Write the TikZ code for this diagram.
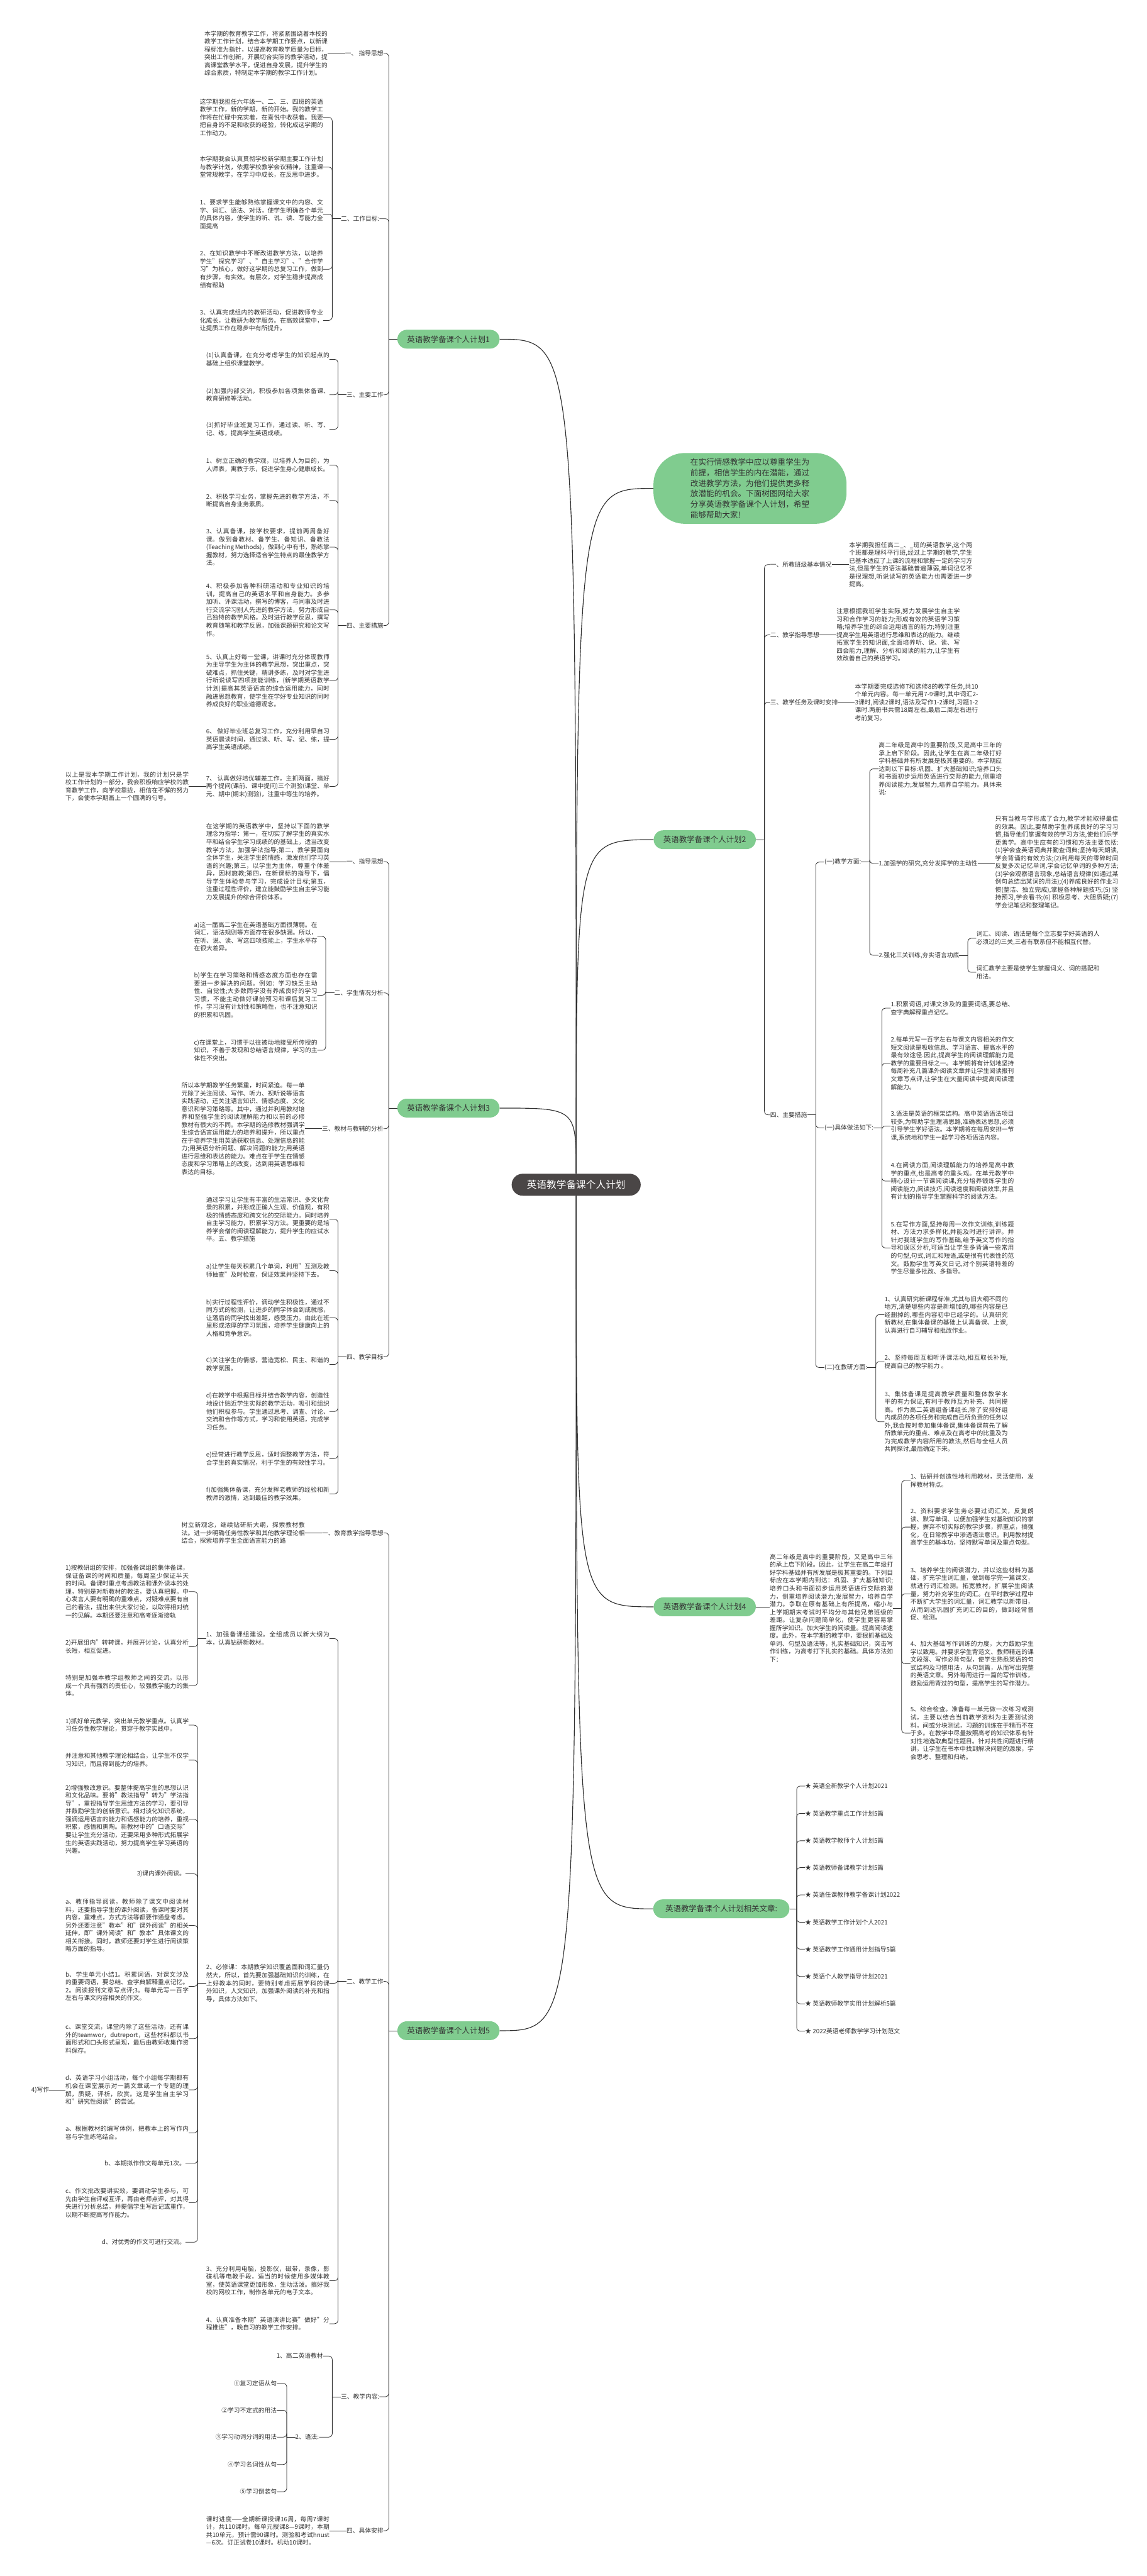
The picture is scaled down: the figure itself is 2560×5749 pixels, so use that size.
\documentclass[tikz,border=0pt]{standalone}
\usepackage{fontspec}
\setmainfont{Noto Sans CJK SC}
\usepackage{tikz}
\XeTeXlinebreaklocale "zh"
\XeTeXlinebreakskip=0pt plus 1pt
\setlength{\parindent}{0pt}
\definecolor{MapGreen}{HTML}{80CC8F}
\definecolor{MapDark}{HTML}{4A4646}
\definecolor{MapInk}{HTML}{333333}
\definecolor{MapLine}{HTML}{2E2E2E}
\tikzset{
  rootbox/.style={fill=MapDark,text=white,rounded corners=24.5bp,minimum width=288bp,minimum height=49bp,inner sep=0pt,font=\fontsize{22bp}{26bp}\selectfont},
  topicbox/.style={fill=MapGreen,text=MapInk,rounded corners=21bp,minimum width=228bp,minimum height=42bp,inner sep=0pt,font=\fontsize{17.5bp}{21bp}\selectfont},
  tagtext/.style={text=MapInk,inner sep=0pt,font=\fontsize{13.7bp}{17.6bp}\selectfont},
  leafbox/.style={tagtext,text width=275bp,align=justify},
  trunkline/.style={draw=MapLine,line width=1.6bp},
  linkline/.style={draw=MapLine,line width=1.1bp},
  braceline/.style={linkline,rounded corners=8bp}
}
\begin{document}
\begin{tikzpicture}[x=1bp,y=-1bp]
  \fill[white] (0,0) rectangle (2560,5749);
  \useasboundingbox (0,0) rectangle (2560,5749);

  \node[rootbox] (root) at (1286,2644) {英语教学备课个人计划};
  \node[topicbox] (p1) at (1001,757) {英语教学备课个人计划1};
  \node[topicbox] (p3) at (1001,2473) {英语教学备课个人计划3};
  \node[topicbox] (p5) at (1001,4532) {英语教学备课个人计划5};
  \node[topicbox] (p2) at (1573,1874) {英语教学备课个人计划2};
  \node[topicbox] (p4) at (1573,3586) {英语教学备课个人计划4};
  \node[topicbox,minimum width=304bp] (rel) at (1610,4260) {英语教学备课个人计划相关文章:};
  \node[topicbox,rounded corners=70bp,minimum width=431bp,minimum height=158bp,text width=266bp,align=left,font=\fontsize{17.7bp}{23.6bp}\selectfont] (intro) at (1674,1090) {在实行情感教学中应以尊重学生为前提，相信学生的内在潜能，通过改进教学方法，为他们提供更多释放潜能的机会。下面树图网给大家分享英语教学备课个人计划，希望能够帮助大家!};

  \draw[trunkline] (root.north) .. controls (1286,757) .. (p1.east);
  \draw[trunkline] (root.north) .. controls (1286,1090) .. (intro.west);
  \draw[trunkline] (root.north) .. controls (1286,1874) .. (p2.west);
  \draw[trunkline] (root.north) .. controls (1286,2473) .. (p3.east);
  \draw[trunkline] (root.south) .. controls (1286,3586) .. (p4.west);
  \draw[trunkline] (root.south) .. controls (1286,4260) .. (rel.west);
  \draw[trunkline] (root.south) .. controls (1286,4532) .. (p5.east);

  \node[tagtext,anchor=east] (p1a) at (856,119) {一、 指导思想};
  \node[tagtext,anchor=east] (p1b) at (847,488) {二、工作目标:};
  \node[tagtext,anchor=east] (p1c) at (856,881) {三、主要工作};
  \node[tagtext,anchor=east] (p1d) at (856,1396) {四、主要措施};
  \node[leafbox,anchor=west] (p1a1) at (456,119) {本学期的教育教学工作，将紧紧围绕着本校的教学工作计划，结合本学期工作要点，以新课程标准为指针，以提高教育教学质量为目标，突出工作创新，开展切合实际的教学活动，提高课堂教学水平，促进自身发展，提升学生的综合素质，特制定本学期的教学工作计划。};
  \node[leafbox,anchor=west] (p1b1) at (446,262) {这学期我担任六年级一、二、三、四班的英语教学工作，新的学期，新的开始。我的教学工作将在忙碌中充实着，在喜悦中收获着。我要把自身的不足和收获的经验，转化成这学期的工作动力。};
  \node[leafbox,anchor=west] (p1b2) at (446,373) {本学期我会认真贯彻学校新学期主要工作计划与教学计划，依据学校教学会议精神，注重课堂常规教学，在学习中成长，在反思中进步。};
  \node[leafbox,anchor=west] (p1b3) at (446,478) {1、要求学生能够熟练掌握课文中的内容、文字、词汇、语法、对话，使学生明确各个单元的具体内容，使学生的听、说、读、写能力全面提高};
  \node[leafbox,anchor=west] (p1b4) at (446,601) {2、在知识教学中不断改进教学方法，以培养学生"探究学习"、"自主学习"、"合作学习"为核心，做好这学期的总复习工作，做到有步骤，有实效。有层次，对学生稳步提高成绩有帮助};
  \node[leafbox,anchor=west] (p1b5) at (446,715) {3、认真完成组内的教研活动，促进教师专业化成长，让教研为教学服务。在高效课堂中，让提质工作在稳步中有所提升。};
  \node[leafbox,anchor=west] (p1c1) at (460,802) {(1)认真备课，在充分考虑学生的知识起点的基础上组织课堂教学。};
  \node[leafbox,anchor=west] (p1c2) at (460,881) {(2)加强内部交流，积极参加各项集体备课、教育研修等活动。};
  \node[leafbox,anchor=west] (p1c3) at (460,958) {(3)抓好毕业班复习工作，通过读、听、写、记、练，提高学生英语成绩。};
  \node[leafbox,anchor=west] (p1d1) at (460,1038) {1、树立正确的教学观，以培养人为目的，为人师表，寓教于乐，促进学生身心健康成长。};
  \node[leafbox,anchor=west] (p1d2) at (460,1117) {2、积极学习业务，掌握先进的教学方法，不断提高自身业务素质。};
  \node[leafbox,anchor=west] (p1d3) at (460,1221) {3、认真备课，按学校要求，提前两周备好课。做到备教材、备学生、备知识、备教法(Teaching Methods)，做到心中有书，熟练掌握教材，努力选择适合学生特点的最佳教学方法。};
  \node[leafbox,anchor=west] (p1d4) at (460,1361) {4、积极参加各种科研活动和专业知识的培训，提高自己的英语水平和自身能力。多参加听、评课活动，撰写的博客，与同事及时进行交流学习别人先进的教学方法，努力形成自己独特的教学风格。及时进行教学反思，撰写教育随笔和教学反思，加强课题研究和论文写作。};
  \node[leafbox,anchor=west] (p1d5) at (460,1519) {5、认真上好每一堂课，讲课时充分体现教师为主导学生为主体的教学思想，突出重点，突破难点，抓住关键，精讲多练，及时对学生进行听说读写四项技能训练，(新学期英语教学计划)提高其英语语言的综合运用能力，同时融进思想教育，使学生在学好专业知识的同时养成良好的职业道德观念。};
  \node[leafbox,anchor=west] (p1d6) at (460,1650) {6、 做好毕业班总复习工作，充分利用早自习英语晨读时间，通过读、听、写、记、练，提高学生英语成绩。};
  \node[leafbox,anchor=west] (p1d7) at (460,1755) {7、 认真做好培优辅差工作，主抓两面，搞好两个提问(课前、课中提问)三个测验(课堂、单元、期中(期末)测验)，注重中等生的培养。};
  \node[leafbox,anchor=west] (p1d7a) at (146,1755) {以上是我本学期工作计划，我的计划只是学校工作计划的一部分，我会积极响应学校的教育教学工作，向学校靠拢，相信在不懈的努力下，会使本学期画上一个圆满的句号。};

  \draw[linkline] (p1.west) -- ++(-19,0) coordinate (p1s);
  \foreach \k in {p1a,p1b,p1c,p1d} \draw[braceline] (p1s) |- (\k.east);
  \draw[linkline] (p1a.west) -- (p1a.west -| p1a1.east);
  \draw[linkline] (p1b.west) -- ++(-19,0) coordinate (p1bs);
  \foreach \k in {p1b1,p1b2,p1b3,p1b4,p1b5} \draw[braceline] (p1bs) |- (\k.east);
  \draw[linkline] (p1c.west) -- ++(-19,0) coordinate (p1cs);
  \foreach \k in {p1c1,p1c2,p1c3} \draw[braceline] (p1cs) |- (\k.east);
  \draw[linkline] (p1d.west) -- ++(-19,0) coordinate (p1ds);
  \foreach \k in {p1d1,p1d2,p1d3,p1d4,p1d5,p1d6,p1d7} \draw[braceline] (p1ds) |- (\k.east);
  \draw[linkline] (p1d7.west) -- (p1d7.west -| p1d7a.east);

  \node[tagtext,anchor=east] (p3a) at (856,1923) {一、指导思想};
  \node[tagtext,anchor=east] (p3b) at (856,2216) {二、学生情况分析};
  \node[tagtext,anchor=east] (p3c) at (856,2519) {三、教材与教辅的分析};
  \node[tagtext,anchor=east] (p3d) at (856,3028) {四、教学目标};
  \node[leafbox,anchor=west] (p3a1) at (460,1923) {在这学期的英语教学中，坚持以下面的教学理念为指导：第一，在切实了解学生的真实水平和结合学生学习成绩的的基础上，适当改变教学方法，加强学法指导;第二，教学要面向全体学生，关注学生的情感，激发他们学习英语的兴趣;第三，以学生为主体，尊重个体差异，因材施教;第四，在新课标的指导下，倡导学生体验参与学习，完成设计目标;第五，注重过程性评价，建立能鼓励学生自主学习能力发展提升的综合评价体系。};
  \node[leafbox,anchor=west] (p3b1) at (433,2090) {a)这一届高二学生在英语基础方面很薄弱。在词汇，语法规则等方面存在很多缺漏。所以，在听、说、读、写这四项技能上，学生水平存在很大差异。};
  \node[leafbox,anchor=west] (p3b2) at (433,2221) {b)学生在学习策略和情感态度方面也存在需要进一步解决的问题。例如：学习缺乏主动性、自觉性;大多数同学没有养成良好的学习习惯，不能主动做好课前预习和课后复习工作，学习没有计划性和策略性，也不注意知识的积累和巩固。};
  \node[leafbox,anchor=west] (p3b3) at (433,2344) {c)在课堂上，习惯于以往被动地接受所传授的知识，不善于发现和总结语言规律，学习的主体性不突出。};
  \node[leafbox,anchor=west] (p3c1) at (405,2519) {所以本学期教学任务繁重，时间紧迫。每一单元除了关注阅读、写作、听力、视听说等语言实践活动，还关注语言知识、情感态度、文化意识和学习策略等。其中，通过并利用教材培养和坚强学生的阅读理解能力和以前的必修教材有很大的不同。本学期的选修教材强调学生综合语言运用能力的培养和提升，所以重点在于培养学生用英语获取信息、处理信息的能力;用英语分析问题、解决问题的能力;用英语进行思维和表达的能力。难点在于学生在情感态度和学习策略上的改变，达到用英语思维和表达的目标。};
  \node[leafbox,anchor=west] (p3d1) at (460,2721) {通过学习让学生有丰富的生活常识、多文化背景的积累，并形成正确人生观、价值观，有积极的情感态度和跨文化的交际能力。同时培养自主学习能力，积累学习方法。更重要的是培养学会僧的阅读理解能力，提升学生的应试水平。五、教学措施};
  \node[leafbox,anchor=west] (p3d2) at (460,2836) {a)让学生每天积累几个单词，利用"互测及教师抽查"及时检查，保证效果并坚持下去。};
  \node[leafbox,anchor=west] (p3d3) at (460,2941) {b)实行过程性评价，调动学生积极性，通过不同方式的检测，让进步的同学体会到成就感，让落后的同学找出差距，感受压力。由此在班里形成浓厚的学习氛围，培养学生健康向上的人格和竞争意识。};
  \node[leafbox,anchor=west] (p3d4) at (460,3045) {C)关注学生的情感，营造宽松、民主、和谐的教学氛围。};
  \node[leafbox,anchor=west] (p3d5) at (460,3150) {d)在教学中根据目标并结合教学内容，创造性地设计贴近学生实际的教学活动，吸引和组织他们积极参与。学生通过思考、调查、讨论、交流和合作等方式，学习和使用英语，完成学习任务。};
  \node[leafbox,anchor=west] (p3d6) at (460,3255) {e)经常进行教学反思，适时调整教学方法，符合学生的真实情况，利于学生的有效性学习。};
  \node[leafbox,anchor=west] (p3d7) at (460,3334) {f)加强集体备课，充分发挥老教师的经验和新教师的激情，达到最佳的教学效果。};

  \draw[linkline] (p3.west) -- ++(-19,0) coordinate (p3s);
  \foreach \k in {p3a,p3b,p3c,p3d} \draw[braceline] (p3s) |- (\k.east);
  \draw[linkline] (p3a.west) -- (p3a.west -| p3a1.east);
  \draw[linkline] (p3b.west) -- ++(-19,0) coordinate (p3bs);
  \foreach \k in {p3b1,p3b2,p3b3} \draw[braceline] (p3bs) |- (\k.east);
  \draw[linkline] (p3c.west) -- (p3c.west -| p3c1.east);
  \draw[linkline] (p3d.west) -- ++(-19,0) coordinate (p3ds);
  \foreach \k in {p3d1,p3d2,p3d3,p3d4,p3d5,p3d6,p3d7} \draw[braceline] (p3ds) |- (\k.east);

  \node[tagtext,anchor=east] (p5a) at (856,3421) {一、教育教学指导思想};
  \node[tagtext,anchor=east] (p5b) at (856,4422) {二、教学工作};
  \node[tagtext,anchor=east] (p5c) at (847,5349) {三、教学内容:};
  \node[tagtext,anchor=east] (p5d) at (856,5648) {四、具体安排};
  \node[leafbox,anchor=west] (p5a1) at (405,3421) {树立新观念，继续钻研新大纲，探索教材教法。进一步明确任务性教学和其他教学理论相结合，探索培养学生全面语言能力的路};
  \node[leafbox,anchor=west] (p5b1) at (460,3657) {1、加强备课组建设。全组成员以新大纲为本，认真钻研新教材。};
  \node[leafbox,anchor=west] (p5b2) at (460,4426) {2、必修课：本期教学知识覆盖面和词汇量仍然大，所以，首先要加强基础知识的训练，在上好教本的同时，要特别考虑拓展学科的课外知识，人文知识，加强课外阅读的补充和指导，具体方法如下。};
  \node[leafbox,anchor=west] (p5b3) at (460,5090) {3、充分利用电脑，投影仪，磁带，录像，影碟机等电教手段，适当的时候使用多媒体教室，使英语课堂更加形象，生动活泼。搞好我校的网校工作，制作各单元的电子文本。};
  \node[leafbox,anchor=west] (p5b4) at (460,5186) {4、认真准备本期"英语演讲比赛"做好"分程推进"，晚自习的教学工作安排。};
  \node[leafbox,anchor=west] (p5b1a) at (146,3552) {1)按教研组的安排，加强备课组的集体备课，保证备课的时间和质量，每周至少保证半天的时间。备课时重点考虑教法和课外读本的处理，特别是对新教材的教法，要认真把握。中心发言人要有明确的重难点，对疑难点要有自己的看法，提出来供大家讨论，以取得相对统一的见解。本期还要注意和高考逐渐接轨};
  \node[leafbox,anchor=west] (p5b1b) at (146,3675) {2)开展组内"转转课，并展开讨论，认真分析长短，相互促进。};
  \node[leafbox,anchor=west] (p5b1c) at (146,3762) {特别是加强本教学组教师之间的交流，以形成一个具有强烈的责任心，较强教学能力的集体。};
  \node[leafbox,anchor=west] (p5b2a) at (146,3850) {1)抓好单元教学，突出单元教学重点。认真学习任务性教学理论，贯穿于教学实践中。};
  \node[leafbox,anchor=west] (p5b2b) at (146,3928) {并注意和其他教学理论相结合，让学生不仅学习知识，而且得到能力的培养。};
  \node[leafbox,anchor=west] (p5b2c) at (146,4060) {2)增强教改意识。要整体提高学生的思想认识和文化品味。要将"教法指导"转为"学法指导"，重视指导学生思维方法的学习，要引导并鼓励学生的创新意识。相对淡化知识系统，强调运用语言的能力和语感能力的培养，重视积累，感悟和熏陶。新教材中的"口语交际"要让学生充分活动，还要采用多种形式拓展学生的英语实践活动，努力提高学生学习英语的兴趣。};
  \node[tagtext,anchor=east] (p5b2d) at (414,4182) {3)课内课外阅读。};
  \node[leafbox,anchor=west] (p5b2e) at (146,4297) {a、教师指导阅读，教师除了课文中阅读材料，还要指导学生的课外阅读，备课时要对其内容，重难点，方式方法等都要作通盘考虑。另外还要注意"教本"和"课外阅读"的相关延伸，即"课外阅读"和"教本"具体课文的相关衔接。同时，教师还要对学生进行阅读策略方面的指导。};
  \node[leafbox,anchor=west] (p5b2f) at (146,4433) {b、学生单元小结1。积累词语，对课文涉及的重要词语，要总结、查字典解释重点记忆。2。阅读报刊文章写点评;3。每单元写一百字左右与课文内容相关的作文。};
  \node[leafbox,anchor=west] (p5b2g) at (146,4550) {c、课堂交流，课堂内除了这些活动，还有课外的teamwor，dutreport，这些材料都以书面形式和口头形式呈现，最后由教师收集作资料保存。};
  \node[leafbox,anchor=west] (p5b2h) at (146,4664) {d、英语学习小组活动，每个小组每学期都有机会在课堂展示对一篇文章或一个专题的理解，质疑，评析，欣赏。这是学生自主学习和"研究性阅读"的尝试。};
  \node[leafbox,anchor=west] (p5b2i) at (146,4760) {a、根据教材的编写体例，把教本上的写作内容与学生练笔结合。};
  \node[tagtext,anchor=east] (p5b2j) at (414,4828) {b、本期拟作作文每单元1次。};
  \node[leafbox,anchor=west] (p5b2k) at (146,4916) {c、作文批改要讲实效，要调动学生参与，可先由学生自评或互评，再由老师点评，对其得失进行分析总结，并提倡学生写后记或重作，以期不断提高写作能力。};
  \node[tagtext,anchor=east] (p5b2l) at (414,5004) {d、对优秀的作文可进行交流。};
  \node[tagtext,anchor=east] (p5b2h1) at (110,4664) {4)写作};
  \node[tagtext,anchor=east] (p5c1) at (721,5258) {1、高二英语教材};
  \node[tagtext,anchor=east] (p5c2) at (712,5439) {2、语法:};
  \node[tagtext,anchor=east] (p5c2a) at (618,5319) {①复习定语从句};
  \node[tagtext,anchor=east] (p5c2b) at (618,5379) {②学习不定式的用法};
  \node[tagtext,anchor=east] (p5c2c) at (618,5439) {③学习动词分词的用法};
  \node[tagtext,anchor=east] (p5c2d) at (618,5500) {④学习名词性从句};
  \node[tagtext,anchor=east] (p5c2e) at (618,5561) {⑤学习倒装句};
  \node[leafbox,anchor=west] (p5d1) at (460,5648) {课时进度——全期新课授课16周，每周7课时计，共110课时。每单元授课8—9课时，本期共10单元，预计需90课时。测验和考试hnust—6次。订正试卷10课时。机动10课时。};

  \draw[linkline] (p5.west) -- ++(-19,0) coordinate (p5s);
  \foreach \k in {p5a,p5b,p5c,p5d} \draw[braceline] (p5s) |- (\k.east);
  \draw[linkline] (p5a.west) -- (p5a.west -| p5a1.east);
  \draw[linkline] (p5b.west) -- ++(-19,0) coordinate (p5bs);
  \foreach \k in {p5b1,p5b2,p5b3,p5b4} \draw[braceline] (p5bs) |- (\k.east);
  \draw[linkline] (p5b1.west) -- ++(-19,0) coordinate (p5b1s);
  \foreach \k in {p5b1a,p5b1b,p5b1c} \draw[braceline] (p5b1s) |- (\k.east);
  \draw[linkline] (p5b2.west) -- ++(-19,0) coordinate (p5b2s);
  \foreach \k in {p5b2a,p5b2b,p5b2c,p5b2d,p5b2e,p5b2f,p5b2g,p5b2h,p5b2i,p5b2j,p5b2k,p5b2l} \draw[braceline] (p5b2s) |- (\k.east);
  \draw[linkline] (p5b2h.west) -- (p5b2h.west -| p5b2h1.east);
  \draw[linkline] (p5c.west) -- ++(-19,0) coordinate (p5cs);
  \foreach \k in {p5c1,p5c2} \draw[braceline] (p5cs) |- (\k.east);
  \draw[linkline] (p5c2.west) -- ++(-19,0) coordinate (p5c2s);
  \foreach \k in {p5c2a,p5c2b,p5c2c,p5c2d,p5c2e} \draw[braceline] (p5c2s) |- (\k.east);
  \draw[linkline] (p5d.west) -- (p5d.west -| p5d1.east);

  \node[tagtext,anchor=west] (p2a) at (1719,1260) {一、所教班级基本情况};
  \node[tagtext,anchor=west] (p2b) at (1719,1417) {二、教学指导思想};
  \node[tagtext,anchor=west] (p2c) at (1719,1567) {三、教学任务及课时安排};
  \node[tagtext,anchor=west] (p2d) at (1719,2488) {四、主要措施};
  \node[leafbox,anchor=west] (p2a1) at (1895,1260) {本学期我担任高二\_、\_班的英语教学,这个两个班都是理科平行班,经过上学期的教学,学生已基本适应了上课的流程和掌握一定的学习方法,但是学生的语法基础普遍薄弱,单词记忆不是很理想,听说读写的英语能力也需要进一步提高。};
  \node[leafbox,anchor=west] (p2b1) at (1867,1417) {注意根据我班学生实际,努力发展学生自主学习和合作学习的能力;形成有效的英语学习策略;培养学生的综合运用语言的能力;特别注重提高学生用英语进行思维和表达的能力。继续拓宽学生的知识面,全面培养听、说、读、写四会能力,理解、分析和阅读的能力,让学生有效改善自己的英语学习。};
  \node[leafbox,anchor=west] (p2c1) at (1908,1567) {本学期要完成选修7和选修8的教学任务,共10个单元内容。每一单元用7-9课时,其中词汇2-3课时,阅读2课时,语法及写作1-2课时,习题1-2课时.两册书共需18周左右,最后二周左右进行考前复习。};
  \node[tagtext,anchor=west] (p2d1) at (1840,1924) {(一)教学方面:};
  \node[tagtext,anchor=west] (p2d2) at (1840,2517) {(一)具体做法如下:};
  \node[tagtext,anchor=west] (p2d3) at (1840,3052) {(二)在教研方面:};
  \node[leafbox,anchor=west] (p2d1a) at (1961,1716) {高二年级是高中的重要阶段,又是高中三年的承上启下阶段。因此,让学生在高二年级打好学科基础并有所发展是极其重要的。本学期应达到以下目标:巩固、扩大基础知识;培养口头和书面初步运用英语进行交际的能力,侧重培养阅读能力;发展智力,培养自学能力。具体来说:};
  \node[tagtext,anchor=west] (p2d1b) at (1961,1927) {1.加强学的研究,充分发挥学的主动性};
  \node[tagtext,anchor=west] (p2d1c) at (1961,2132) {2.强化三关训练,夯实语言功底};
  \node[leafbox,anchor=west] (p2d1b1) at (2221,1924) {只有当教与学形成了合力,教学才能取得最佳的效果。因此,要帮助学生养成良好的学习习惯,指导他们掌握有效的学习方法,使他们乐学更善学。高中生应有的习惯和方法主要包括:(1)学会查英语词典并勤查词典;坚持每天朗读,学会背诵的有效方法;(2)利用每天的零碎时间反复多次记忆单词,学会记忆单词的多种方法;(3)学会观察语言现象,总结语言规律(如通过某例句总结出某词的用法);(4)养成良好的作业习惯(整洁、独立完成),掌握各种解题技巧;(5) 坚持预习,学会看书;(6) 积极思考、大胆质疑;(7)学会记笔记和整理笔记。};
  \node[leafbox,anchor=west] (p2d1c1) at (2179,2094) {词汇、阅读、语法是每个立志要学好英语的人必须过的三关,三者有联系但不能相互代替。};
  \node[leafbox,anchor=west] (p2d1c2) at (2179,2170) {词汇教学主要是使学生掌握词义、词的搭配和用法。};
  \node[leafbox,anchor=west] (p2d2a) at (1988,2250) {1.积累词语,对课文涉及的重要词语,要总结、查字典解释重点记忆。};
  \node[leafbox,anchor=west] (p2d2b) at (1988,2373) {2.每单元写一百字左右与课文内容相关的作文短文阅读是吸收信息、学习语言、提高水平的最有效途径.因此,提高学生的阅读理解能力是教学的重要目标之一。本学期将有计划地坚持每周补充几篇课外阅读文章并让学生阅读报刊文章写点评,让学生在大量阅读中提高阅读理解能力。};
  \node[leafbox,anchor=west] (p2d2c) at (1988,2513) {3.语法是英语的框架结构。高中英语语法项目较多,为帮助学生理清思路,准确表达思想,必须引导学生学好语法。本学期将在每周安排一节课,系统地和学生一起学习各项语法内容。};
  \node[leafbox,anchor=west] (p2d2d) at (1988,2636) {4.在阅读方面,阅读理解能力的培养是高中教学的重点,也是高考的重头戏。在单元教学中精心设计一节课阅读课,充分培养锻炼学生的阅读能力,阅读技巧,阅读速度和阅读效率,并且有计划的指导学生掌握科学的阅读方法。};
  \node[leafbox,anchor=west] (p2d2e) at (1988,2785) {5.在写作方面,坚持每周一次作文训练,训练题材、方法力求多样化,并能及时进行讲评。并针对我班学生的写作基础,给予英文写作的指导和误区分析,可适当让学生多背诵一些常用的句型,句式,词汇和短语,或是很有代表性的范文。鼓励学生写英文日记,对个别英语特差的学生尽量多批改、多指导。};
  \node[leafbox,anchor=west] (p2d3a) at (1974,2934) {1、认真研究新课程标准,尤其与旧大纲不同的地方,清楚哪些内容是新增加的,哪些内容是已经删掉的,哪些内容初中已经学的。认真研究新教材,在集体备课的基础上认真备课、上课,认真进行自习辅导和批改作业。};
  \node[leafbox,anchor=west] (p2d3b) at (1974,3039) {2、坚持每周互相听评课活动,相互取长补短,提高自己的教学能力 。};
  \node[leafbox,anchor=west] (p2d3c) at (1974,3173) {3、集体备课是提高教学质量和整体教学水平的有力保证,有利于教师互为补充、共同提高。作为高二英语组备课组长,除了安排好组内成员的各项任务和完成自己所负责的任务以外,我会按时参加集体备课,集体备课前先了解所教单元的重点、难点及在高考中的比重及为为完成教学内容所用的教法,然后与全组人员共同探讨,最后确定下来。};

  \draw[linkline] (p2.east) -- ++(19,0) coordinate (p2s);
  \foreach \k in {p2a,p2b,p2c,p2d} \draw[braceline] (p2s) |- (\k.west);
  \draw[linkline] (p2a.east) -- (p2a.east -| p2a1.west);
  \draw[linkline] (p2b.east) -- (p2b.east -| p2b1.west);
  \draw[linkline] (p2c.east) -- (p2c.east -| p2c1.west);
  \draw[linkline] (p2d.east) -- ++(19,0) coordinate (p2ds);
  \foreach \k in {p2d1,p2d2,p2d3} \draw[braceline] (p2ds) |- (\k.west);
  \draw[linkline] (p2d1.east) -- ++(19,0) coordinate (p2d1s);
  \foreach \k in {p2d1a,p2d1b,p2d1c} \draw[braceline] (p2d1s) |- (\k.west);
  \draw[linkline] (p2d1b.east) -- (p2d1b.east -| p2d1b1.west);
  \draw[linkline] (p2d1c.east) -- ++(19,0) coordinate (p2d1cs);
  \foreach \k in {p2d1c1,p2d1c2} \draw[braceline] (p2d1cs) |- (\k.west);
  \draw[linkline] (p2d2.east) -- ++(19,0) coordinate (p2d2s);
  \foreach \k in {p2d2a,p2d2b,p2d2c,p2d2d,p2d2e} \draw[braceline] (p2d2s) |- (\k.west);
  \draw[linkline] (p2d3.east) -- ++(19,0) coordinate (p2d3s);
  \foreach \k in {p2d3a,p2d3b,p2d3c} \draw[braceline] (p2d3s) |- (\k.west);

  \node[leafbox,anchor=west] (p4a) at (1718,3589) {高二年级是高中的重要阶段，又是高中三年的承上启下阶段。因此，让学生在高二年级打好学科基础并有所发展是极其重要的。下列目标应在本学期内到达：巩固、扩大基础知识;培养口头和书面初步运用英语进行交际的潜力，侧重培养阅读潜力;发展智力，培养自学潜力。争取在原有基础上有所提高，缩小与上学期期末考试时平均分与其他兄弟班级的差距。让复杂问题简单化，使学生更容易掌握所学知识。加大学生的阅读量。提高阅读速度。此外，在本学期的教学中，要狠抓基础及单词、句型及语法等，扎实基础知识，突击写作训练，为高考打下扎实的基础。具体方法如下：};
  \node[leafbox,anchor=west] (p4a1) at (2032,3304) {1、钻研并创造性地利用教材，灵活使用，发挥教材特点。};
  \node[leafbox,anchor=west] (p4a2) at (2032,3408) {2、资料要求学生务必要过词汇关，反复朗读、默写单词、以便加强学生对基础知识的掌握。摒弃不切实际的教学步骤，抓重点，搞强化，在日常教学中渗透语法意识。利用教材提高学生的基本功，坚持默写单词及重点句型。};
  \node[leafbox,anchor=west] (p4a3) at (2032,3557) {3、培养学生的阅读潜力，并以这些材料为基础，扩充学生词汇量，做到每学完一篇课文，就进行词汇检测。拓宽教材，扩展学生阅读量，努力补充学生的词汇。在平时教学过程中不断扩大学生的词汇量，词汇教学以新带旧，从而到达巩固扩充词汇的目的，做到经常督促、检测。};
  \node[leafbox,anchor=west] (p4a4) at (2032,3713) {4、加大基础写作训练的力度，大力鼓励学生学以致用。并要求学生背范文、教师精选的课文段落、写作必背句型，使学生熟悉英语的句式结构及习惯用法，从句到篇，从而写出完整的英语文章。另外每周进行一篇的写作训练，鼓励运用背过的句型，提高学生的写作潜力。};
  \node[leafbox,anchor=west] (p4a5) at (2032,3868) {5、综合检查。准备每一单元做一次练习或测试，主要以结合当前教学资料为主要测试资料，间或分块测试，习题的训练在于精而不在于多。在教学中尽量按照高考的知识体系有针对性地选取典型性题目。针对共性问题进行精讲，让学生在书本中找到解决问题的源泉，学会思考、整理和归纳。};

  \draw[linkline] (p4.east) -- (p4.east -| p4a.west);
  \draw[linkline] (p4a.east) -- ++(19,0) coordinate (p4as);
  \foreach \k in {p4a1,p4a2,p4a3,p4a4,p4a5} \draw[braceline] (p4as) |- (\k.west);

  \node[tagtext,anchor=west] (rel1) at (1797,3986) {★ 英语全新教学个人计划2021};
  \node[tagtext,anchor=west] (rel2) at (1797,4047) {★ 英语教学重点工作计划5篇};
  \node[tagtext,anchor=west] (rel3) at (1797,4108) {★ 英语教学教师个人计划5篇};
  \node[tagtext,anchor=west] (rel4) at (1797,4168) {★ 英语教师备课教学计划5篇};
  \node[tagtext,anchor=west] (rel5) at (1797,4229) {★ 英语任课教师教学备课计划2022};
  \node[tagtext,anchor=west] (rel6) at (1797,4290) {★ 英语教学工作计划个人2021};
  \node[tagtext,anchor=west] (rel7) at (1797,4350) {★ 英语教学工作通用计划指导5篇};
  \node[tagtext,anchor=west] (rel8) at (1797,4411) {★ 英语个人教学指导计划2021};
  \node[tagtext,anchor=west] (rel9) at (1797,4472) {★ 英语教师教学实用计划解析5篇};
  \node[tagtext,anchor=west] (rel10) at (1797,4533) {★ 2022英语老师教学学习计划范文};

  \draw[linkline] (rel.east) -- ++(16,0) coordinate (rels);
  \foreach \k in {rel1,rel2,rel3,rel4,rel5,rel6,rel7,rel8,rel9,rel10} \draw[braceline] (rels) |- (\k.west);
\end{tikzpicture}
\end{document}
